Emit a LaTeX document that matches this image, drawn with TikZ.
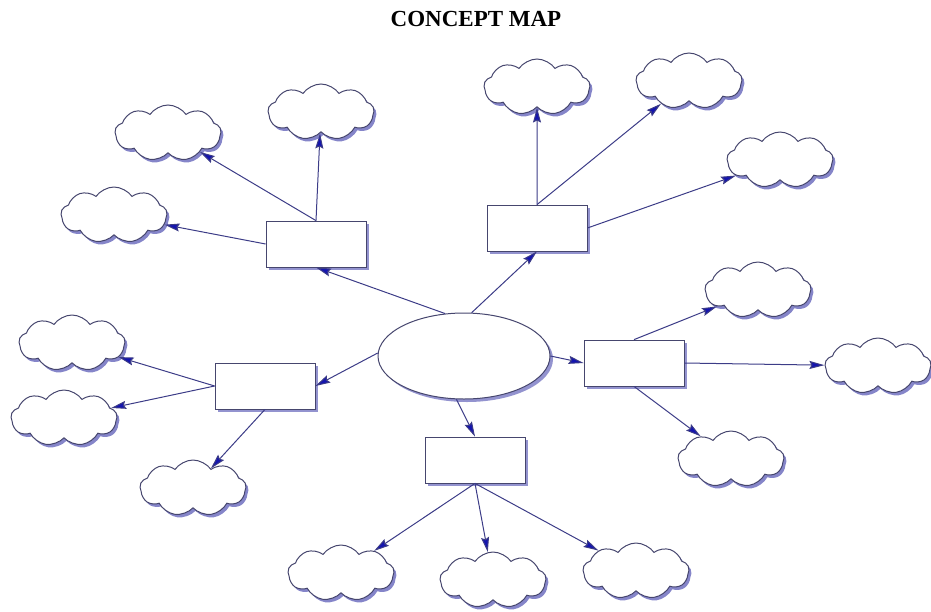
\documentclass[tikz,border=0pt]{standalone}
\usepackage{fontspec}
\setmainfont{Liberation Serif}
\usetikzlibrary{shapes.symbols,shapes.geometric,shadows,arrows.meta}

\definecolor{borde}{RGB}{70,70,110}
\definecolor{sombra}{RGB}{120,120,195}
\definecolor{flecha}{RGB}{60,60,135}
\definecolor{punta}{RGB}{20,20,175}

\tikzset{
    nube/.style={cloud, cloud puffs=9, cloud puff arc=110, cloud ignores aspect, draw=borde, fill=white,
        line width=1pt, minimum width=106pt, minimum height=56pt,
        drop shadow={shadow xshift=2.5pt, shadow yshift=-3pt, fill=sombra, opacity=0.9}},
    caja/.style={rectangle, draw=borde, fill=white, line width=0.8pt,
        minimum width=100pt, minimum height=46pt,
        drop shadow={shadow xshift=3pt, shadow yshift=-3pt, fill=sombra, opacity=0.8}},
    flechita/.style={draw=flecha, line width=1pt,
        -{Stealth[length=15pt, width=8pt, inset=2pt, fill=punta]}}
}

\begin{document}
\begin{tikzpicture}[x=1pt, y=-1pt]
    \useasboundingbox (0,0) rectangle (931,611);

    % Titulo
    \node[font=\bfseries\fontsize{23}{26}\selectfont] (titulo) at (476,19) {CONCEPT MAP};

    % Elipse central
    \node[ellipse, draw=borde, fill=white, line width=1pt, minimum width=172pt, minimum height=86pt,
        drop shadow={shadow xshift=3pt, shadow yshift=-3pt, fill=sombra, opacity=0.8}] (ell) at (464,356) {};

    % Cajas
    \node[caja] (b1) at (316,244) {};
    \node[caja] (b2) at (537,228) {};
    \node[caja] (b3) at (265,386) {};
    \node[caja] (b4) at (634,363) {};
    \node[caja] (b5) at (475,460) {};

    % Nubes arriba a la izquierda
    \node[nube] (nA) at (168,133) {};
    \node[nube] (nB) at (321,112) {};
    \node[nube] (nC) at (114,215) {};

    % Nubes arriba a la derecha
    \node[nube] (nD) at (537,87) {};
    \node[nube] (nE) at (689,81) {};
    \node[nube] (nF) at (780,160) {};

    % Nubes a la izquierda
    \node[nube] (nG) at (72,343) {};
    \node[nube] (nH) at (64,418) {};
    \node[nube] (nI) at (193,488) {};

    % Nubes a la derecha
    \node[nube] (nJ) at (758,290) {};
    \node[nube] (nK) at (878,366) {};
    \node[nube] (nL) at (731,459) {};

    % Nubes abajo
    \node[nube] (nM) at (341,573) {};
    \node[nube] (nN) at (493,580) {};
    \node[nube] (nO) at (636,571) {};

    % Elipse -> cajas
    \draw[flechita] (ell.114) -- (b1.south);
    \draw[flechita] (ell.80) -- (b2.south);
    \draw[flechita] (ell.178) -- (b3.east);
    \draw[flechita] (ell.0) -- (b4.west);
    \draw[flechita] (ell.-100) -- (b5.north);

    % Cajas -> nubes
    \draw[flechita] (b1.north) -- (nB);
    \draw[flechita] (b1.north) -- (nA);
    \draw[flechita] (b1.west) -- (nC);

    \draw[flechita] (b2.north) -- (nD);
    \draw[flechita] (b2.north) -- (nE);
    \draw[flechita] (b2.east) -- (nF);

    \draw[flechita] (b3.west) -- (nG);
    \draw[flechita] (b3.west) -- (nH);
    \draw[flechita] (b3.south) -- (nI);

    \draw[flechita] (b4.north) -- (nJ);
    \draw[flechita] (b4.east) -- (nK);
    \draw[flechita] (b4.south) -- (nL);

    \draw[flechita] (b5.south) -- (nM);
    \draw[flechita] (b5.south) -- (nN);
    \draw[flechita] (b5.south) -- (nO);
\end{tikzpicture}
\end{document}
